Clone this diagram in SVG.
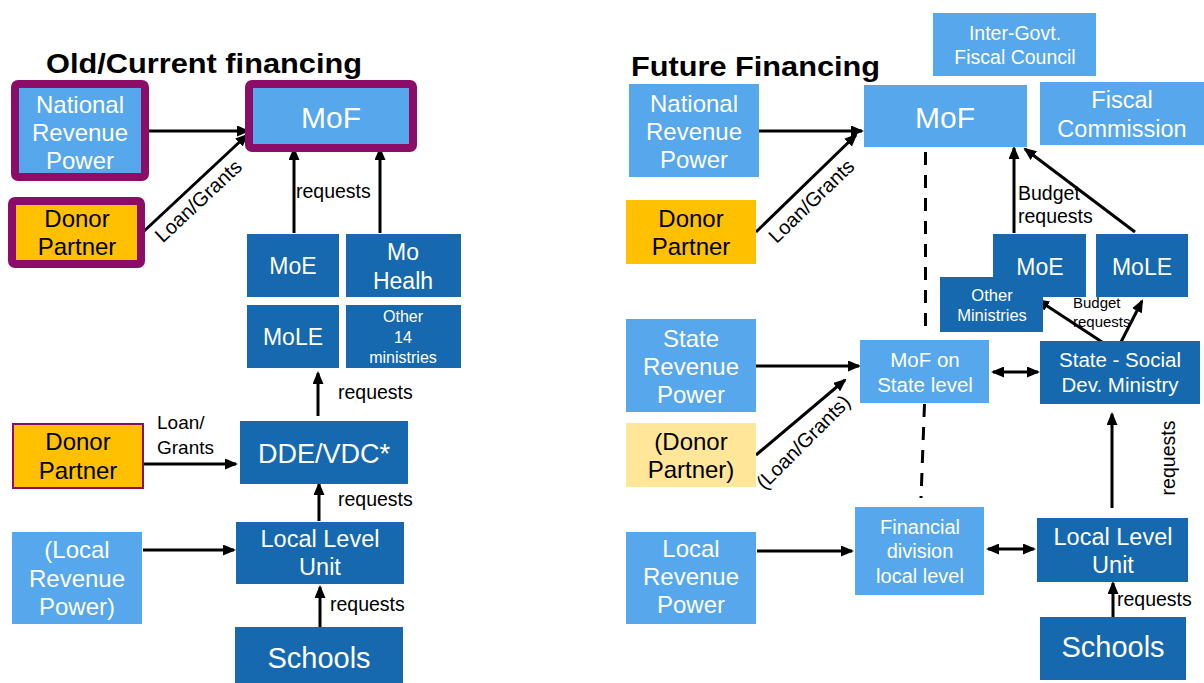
<svg xmlns="http://www.w3.org/2000/svg" width="1204" height="683" viewBox="0 0 1204 683">
<defs>
<style>
.lb{fill:#56A7EB}
.db{fill:#1668AF}
.or{fill:#FFC000}
.ly{fill:#FFE699}
.pb{stroke:#8B0D68;stroke-width:8}
.t{font-family:"Liberation Sans",Arial,sans-serif;text-anchor:middle}
.w{fill:#FFFFFF}
.k{fill:#000000}
.lbl{font-family:"Liberation Sans",Arial,sans-serif;fill:#000000}
.ttl{font-family:"Liberation Sans",Arial,sans-serif;font-weight:bold;fill:#000000}
.ar{stroke:#000;stroke-width:3;fill:none;marker-end:url(#ah)}
.dar{stroke:#000;stroke-width:3;fill:none;marker-end:url(#ah);marker-start:url(#ahs)}
.ln{stroke:#000;stroke-width:3;fill:none}
</style>
<marker id="ah" markerUnits="userSpaceOnUse" markerWidth="13" markerHeight="11" refX="11" refY="5.5" orient="auto">
<path d="M0,0 L13,5.5 L0,11 z" fill="#000"/>
</marker>
<marker id="ahs" markerUnits="userSpaceOnUse" markerWidth="13" markerHeight="11" refX="11" refY="5.5" orient="auto-start-reverse">
<path d="M0,0 L13,5.5 L0,11 z" fill="#000"/>
</marker>
</defs>
<rect width="1204" height="683" fill="#FFFFFF"/>

<text class="ttl" x="46" y="73" font-size="27.5" textLength="316" lengthAdjust="spacingAndGlyphs">Old/Current financing</text>
<text class="ttl" x="631" y="76" font-size="27.5" textLength="249" lengthAdjust="spacingAndGlyphs">Future Financing</text>

<g id="connectors">
<line class="ar" x1="145" y1="131" x2="248" y2="131"/>
<line class="ar" x1="142" y1="233" x2="247" y2="135"/>
<line class="ar" x1="294" y1="233" x2="294" y2="149"/>
<line class="ar" x1="380" y1="233" x2="380" y2="149"/>
<line class="ar" x1="318" y1="416" x2="318" y2="373"/>
<line class="ar" x1="144" y1="464" x2="236" y2="464"/>
<line class="ar" x1="319" y1="521" x2="319" y2="484"/>
<line class="ar" x1="143" y1="550" x2="234" y2="550"/>
<line class="ar" x1="320" y1="628" x2="320" y2="587"/>

<line class="ar" x1="759" y1="131" x2="862" y2="131"/>
<line class="ar" x1="756" y1="232" x2="856" y2="135"/>
<line class="ln" x1="925.5" y1="152" x2="925.5" y2="333" stroke-dasharray="13,10"/>
<line class="ln" x1="924.5" y1="404" x2="921" y2="498" stroke-dasharray="13,10"/>
<line class="ar" x1="1014" y1="233" x2="1014" y2="148"/>
<line class="ar" x1="1135" y1="232" x2="1025" y2="149"/>
<line class="ar" x1="756" y1="366" x2="859" y2="366"/>
<line class="ar" x1="756" y1="455" x2="845" y2="380"/>
<line class="dar" x1="993" y1="372" x2="1038" y2="372"/>
<line class="ar" x1="757" y1="551" x2="852" y2="551"/>
<line class="dar" x1="988" y1="549" x2="1034" y2="549"/>
<line class="ar" x1="1112" y1="508" x2="1112" y2="414"/>
<line class="ar" x1="1113" y1="617" x2="1113" y2="583"/>
<line class="ar" x1="1121" y1="342" x2="1142" y2="301"/>
<line class="ar" x1="1102" y1="342" x2="1038" y2="300"/>

<text class="lbl" font-size="20" transform="translate(203,206) rotate(-43)" text-anchor="middle">Loan/Grants</text>
<text class="lbl" font-size="19.5" x="296" y="198">requests</text>
<text class="lbl" font-size="19.5" x="338" y="399">requests</text>
<text class="lbl" font-size="19" x="157" y="429">Loan/</text>
<text class="lbl" font-size="19" x="157" y="454">Grants</text>
<text class="lbl" font-size="19.5" x="338" y="506">requests</text>
<text class="lbl" font-size="19.5" x="330" y="611">requests</text>

<text class="lbl" font-size="20" transform="translate(816,206) rotate(-44)" text-anchor="middle">Loan/Grants</text>
<text class="lbl" font-size="19.5" x="1018" y="200">Budget</text>
<text class="lbl" font-size="19.5" x="1018" y="223">requests</text>
<text class="lbl" font-size="15" x="1073" y="308">Budget</text>
<text class="lbl" font-size="15" x="1073" y="327">requests</text>
<text class="lbl" font-size="20" transform="translate(808,447) rotate(-45)" text-anchor="middle">(Loan/Grants)</text>
<text class="lbl" font-size="19.5" transform="translate(1175,458) rotate(-90)" text-anchor="middle">requests</text>
<text class="lbl" font-size="19.5" x="1117" y="606">requests</text>
</g>

<g id="l-nrp">
<rect x="15" y="84" width="130" height="93" rx="3" class="lb pb"/>
<text class="t w" font-size="24" x="80" y="113">National</text>
<text class="t w" font-size="24" x="80" y="141">Revenue</text>
<text class="t w" font-size="24" x="80" y="169">Power</text>
</g>
<g id="l-donor1">
<rect x="12" y="201" width="129" height="63" rx="3" class="or pb"/>
<text class="t k" font-size="24" x="77" y="227">Donor</text>
<text class="t k" font-size="24" x="77" y="255">Partner</text>
</g>
<g id="l-mof">
<rect x="249" y="84" width="164" height="64" rx="3" class="lb pb"/>
<text class="t w" font-size="30" x="331" y="128">MoF</text>
</g>
<g id="l-moe">
<rect x="247" y="234" width="92" height="63" class="db"/>
<text class="t w" font-size="23" x="293" y="274">MoE</text>
</g>
<g id="l-moh">
<rect x="346" y="234" width="115" height="63" class="db"/>
<text class="t w" font-size="23" x="403" y="260">Mo</text>
<text class="t w" font-size="23" x="403" y="289">Healh</text>
</g>
<g id="l-mole">
<rect x="247" y="305" width="92" height="63" class="db"/>
<text class="t w" font-size="23" x="293" y="345">MoLE</text>
</g>
<g id="l-other">
<rect x="346" y="305" width="115" height="63" class="db"/>
<text class="t w" font-size="16" x="403" y="322">Other</text>
<text class="t w" font-size="16" x="403" y="343">14</text>
<text class="t w" font-size="16" x="403" y="363">ministries</text>
</g>
<g id="l-donor2">
<rect x="13" y="424" width="130" height="64" class="or" stroke="#8B0D68" stroke-width="2"/>
<text class="t k" font-size="24" x="78" y="450">Donor</text>
<text class="t k" font-size="24" x="78" y="479">Partner</text>
</g>
<g id="l-dde">
<rect x="240" y="421" width="168" height="63" class="db"/>
<text class="t w" font-size="27" x="324" y="463">DDE/VDC*</text>
</g>
<g id="l-llu">
<rect x="236" y="522" width="168" height="62" class="db"/>
<text class="t w" font-size="23.5" x="320" y="547">Local Level</text>
<text class="t w" font-size="23.5" x="320" y="575">Unit</text>
</g>
<g id="l-lrp">
<rect x="12" y="532" width="130" height="92" class="lb"/>
<text class="t w" font-size="24" x="77" y="558">(Local</text>
<text class="t w" font-size="24" x="77" y="587">Revenue</text>
<text class="t w" font-size="24" x="77" y="615">Power)</text>
</g>
<g id="l-schools">
<rect x="235" y="627" width="168" height="56" class="db"/>
<text class="t w" font-size="29" x="319" y="668">Schools</text>
</g>

<g id="r-igfc">
<rect x="933" y="13" width="163" height="63" class="lb"/>
<text class="t w" font-size="19.5" x="1015" y="40">Inter-Govt.</text>
<text class="t w" font-size="19.5" x="1015" y="64">Fiscal Council</text>
</g>
<g id="r-nrp">
<rect x="629" y="84" width="130" height="93" class="lb"/>
<text class="t w" font-size="24" x="694" y="112">National</text>
<text class="t w" font-size="24" x="694" y="140">Revenue</text>
<text class="t w" font-size="24" x="694" y="168">Power</text>
</g>
<g id="r-mof">
<rect x="864" y="85" width="163" height="62" class="lb"/>
<text class="t w" font-size="30" x="945" y="128">MoF</text>
</g>
<g id="r-fc">
<rect x="1040" y="82" width="164" height="63" class="lb"/>
<text class="t w" font-size="23.5" x="1122" y="108">Fiscal</text>
<text class="t w" font-size="23.5" x="1122" y="137">Commission</text>
</g>
<g id="r-donor">
<rect x="626" y="200" width="130" height="64" class="or"/>
<text class="t k" font-size="24" x="691" y="227">Donor</text>
<text class="t k" font-size="24" x="691" y="255">Partner</text>
</g>
<g id="r-moe">
<rect x="993" y="234" width="93" height="63" class="db"/>
<text class="t w" font-size="23" x="1040" y="275">MoE</text>
</g>
<g id="r-mole">
<rect x="1096" y="234" width="92" height="63" class="db"/>
<text class="t w" font-size="23" x="1142" y="275">MoLE</text>
</g>
<g id="r-other">
<rect x="940" y="277" width="103" height="55" class="db"/>
<text class="t w" font-size="16.5" x="992" y="301">Other</text>
<text class="t w" font-size="16.5" x="992" y="321">Ministries</text>
</g>
<g id="r-srp">
<rect x="626" y="319" width="130" height="93" class="lb"/>
<text class="t w" font-size="24" x="691" y="347">State</text>
<text class="t w" font-size="24" x="691" y="375">Revenue</text>
<text class="t w" font-size="24" x="691" y="403">Power</text>
</g>
<g id="r-mofstate">
<rect x="860" y="340" width="129" height="63" class="lb"/>
<text class="t w" font-size="20.5" x="925" y="367">MoF on</text>
<text class="t w" font-size="20.5" x="925" y="392">State level</text>
</g>
<g id="r-ssdm">
<rect x="1040" y="341" width="160" height="63" class="db"/>
<text class="t w" font-size="20.5" x="1120" y="367">State - Social</text>
<text class="t w" font-size="20.5" x="1120" y="392">Dev. Ministry</text>
</g>
<g id="r-donor2">
<rect x="626" y="423" width="130" height="64" class="ly"/>
<text class="t k" font-size="24" x="691" y="450">(Donor</text>
<text class="t k" font-size="24" x="691" y="478">Partner)</text>
</g>
<g id="r-lrp">
<rect x="626" y="532" width="130" height="92" class="lb"/>
<text class="t w" font-size="24" x="691" y="557">Local</text>
<text class="t w" font-size="24" x="691" y="585">Revenue</text>
<text class="t w" font-size="24" x="691" y="613">Power</text>
</g>
<g id="r-fd">
<rect x="855" y="507" width="129" height="88" class="lb"/>
<text class="t w" font-size="20" x="920" y="534">Financial</text>
<text class="t w" font-size="20" x="920" y="558">division</text>
<text class="t w" font-size="20" x="920" y="583">local level</text>
</g>
<g id="r-llu">
<rect x="1037" y="518" width="151" height="64" class="db"/>
<text class="t w" font-size="23.5" x="1113" y="545">Local Level</text>
<text class="t w" font-size="23.5" x="1113" y="573">Unit</text>
</g>
<g id="r-schools">
<rect x="1040" y="617" width="146" height="63" class="db"/>
<text class="t w" font-size="29" x="1113" y="657">Schools</text>
</g>
</svg>
